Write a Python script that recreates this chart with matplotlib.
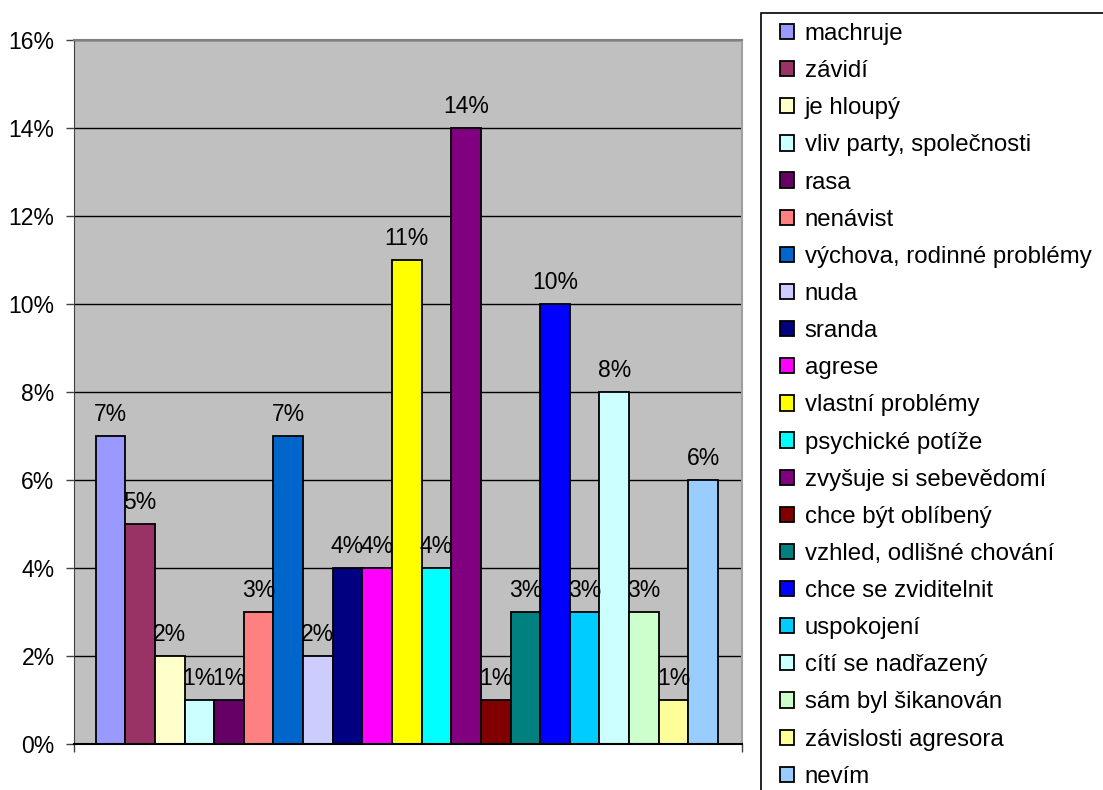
import matplotlib.pyplot as plt
from matplotlib.patches import Rectangle
from matplotlib.ticker import FuncFormatter

plt.rcParams['font.family'] = ['Liberation Sans', 'DejaVu Sans']

categories = ["machruje", "závidí", "je hloupý", "vliv party, společnosti", "rasa",
              "nenávist", "výchova, rodinné problémy", "nuda", "sranda", "agrese",
              "vlastní problémy", "psychické potíže", "zvyšuje si sebevědomí",
              "chce být oblíbený", "vzhled, odlišné chování", "chce se zviditelnit",
              "uspokojení", "cítí se nadřazený", "sám byl šikanován",
              "závislosti agresora", "nevím"]
values = [7, 5, 2, 1, 1, 3, 7, 2, 4, 4, 11, 4, 14, 1, 3, 10, 3, 8, 3, 1, 6]
colors = ["#9999FF", "#993366", "#FFFFCC", "#CCFFFF", "#660066", "#FF8080",
          "#0066CC", "#CCCCFF", "#000080", "#FF00FF", "#FFFF00", "#00FFFF",
          "#800080", "#800000", "#008080", "#0000FF", "#00CCFF", "#CCFFFF",
          "#CCFFCC", "#FFFF99", "#99CCFF"]

W, H = 1103, 790
fig = plt.figure(figsize=(W / 100, H / 100), dpi=100)
ax = fig.add_axes([74 / W, 1 - 744 / H, (742 - 74) / W, (744 - 40) / H])
ax.set_facecolor("#C0C0C0")

bars = []
for i, (v, c, lab) in enumerate(zip(values, colors, categories)):
    b = ax.bar(i, v, width=1.0, color=c, edgecolor="black", linewidth=1.3,
               label=lab, zorder=3)
    bars.append(b)
    ax.annotate(f"{v}%", (i, v), xytext=(0, 7), textcoords="offset points",
                ha="center", va="bottom", fontsize=16.5, zorder=4)

ax.set_xlim(-1.23, 21.31)
ax.set_ylim(0, 16)
ax.set_yticks(range(0, 17, 2))
ax.yaxis.set_major_formatter(FuncFormatter(lambda y, _: f"{int(y)}%"))
ax.tick_params(axis="y", labelsize=16.5, length=6, width=1, color="#404040", pad=8)
ax.set_xticks([-1.23, 21.31])
ax.set_xticklabels([])
ax.tick_params(axis="x", length=6, width=1, color="#404040")
ax.yaxis.grid(True, color="black", linewidth=1, zorder=1)
ax.set_axisbelow(True)

ax.spines["left"].set_color("#404040")
ax.spines["bottom"].set_color("black")
ax.spines["bottom"].set_linewidth(1.5)
ax.spines["bottom"].set_zorder(5)
ax.spines["top"].set_color("#808080")
ax.spines["top"].set_linewidth(1.5)
ax.spines["right"].set_color("#A0A0A0")
ax.spines["right"].set_linewidth(1.5)

# legend frame runs off the figure edge
fig.patches.append(Rectangle((761 / W, -0.1), 0.5, 1.1 - 13 / H,
                             transform=fig.transFigure, fill=False,
                             edgecolor="black", linewidth=1.2))
handles = [b.patches[0] for b in bars]
fig.legend(handles, categories, loc="upper left",
           bbox_to_anchor=(780 / W, 1 - 23 / H), frameon=False,
           fontsize=17.3, labelspacing=0.63, handlelength=0.6, handleheight=0.6,
           handletextpad=0.42, borderaxespad=0, borderpad=0)

fig.savefig("out.png", dpi=100)
